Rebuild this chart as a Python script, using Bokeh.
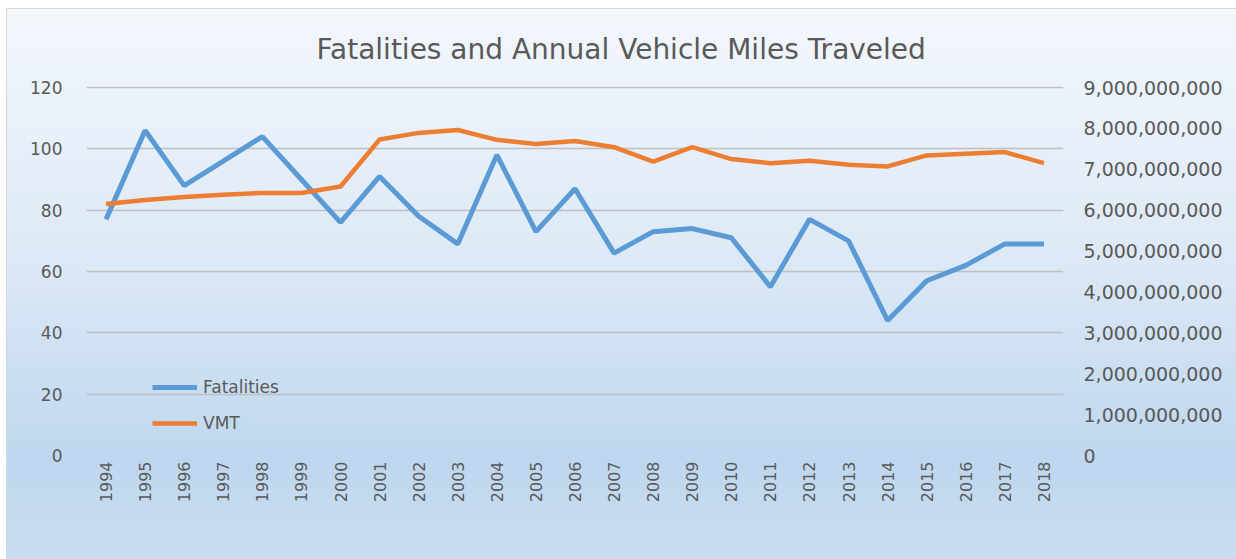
import math
from bokeh.plotting import figure
from bokeh.models import (Range1d, FactorRange, LinearAxis, FixedTicker,
                          NumeralTickFormatter, Legend, LegendItem, Title)
from bokeh.embed import file_html
from bokeh.resources import INLINE

years = [str(y) for y in range(1994, 2019)]
fatalities = [77, 106, 88, 96, 104, 90, 76, 91, 78, 69, 98, 73, 87, 66, 73,
              74, 71, 55, 77, 70, 44, 57, 62, 69, 69]
vmt = [6.15e9, 6.25e9, 6.32e9, 6.38e9, 6.42e9, 6.42e9, 6.58e9, 7.73e9, 7.89e9,
       7.96e9, 7.72e9, 7.62e9, 7.69e9, 7.54e9, 7.19e9, 7.54e9, 7.25e9, 7.15e9,
       7.21e9, 7.11e9, 7.07e9, 7.34e9, 7.38e9, 7.42e9, 7.15e9]
left_ticks = [0, 20, 40, 60, 80, 100, 120]
right_ticks = [0, 1e9, 2e9, 3e9, 4e9, 5e9, 6e9, 7e9, 8e9, 9e9]
title_text = "Fatalities and Annual Vehicle Miles Traveled"

FONT = "DejaVu Sans"
GRAY = "#595959"
TOP_PAD = 120.33 / 120.0

p = figure(width=1229, height=550, output_backend="svg", toolbar_location=None,
           x_range=FactorRange(factors=years, range_padding=0),
           y_range=Range1d(0, 120 * TOP_PAD),
           min_border_left=79, min_border_right=173, min_border_top=77,
           min_border_bottom=104)
p.extra_y_ranges = {"vmt": Range1d(0, 9e9 * TOP_PAD)}

p.border_fill_alpha = 0
p.background_fill_alpha = 0
p.outline_line_color = None
p.styles = {
    "margin": "9px 0px 0px 7px",
    "background": "linear-gradient(to bottom, #f3f7fc 0%, #dde9f6 45%, #bed7ee 82%, #c9ddf1 100%)",
    "outline": "1px solid #d6d6d6",
}

# title
p.title = Title(text=title_text, align="left", offset=230, standoff=42,
                text_font=FONT, text_font_size="28px", text_color=GRAY,
                text_font_style="normal")

# axes
p.yaxis.ticker = FixedTicker(ticks=left_ticks)
for ax in [p.yaxis[0], p.xaxis[0]]:
    ax.axis_line_color = None
    ax.major_tick_line_color = None
    ax.minor_tick_line_color = None
    ax.major_tick_out = 0
    ax.major_tick_in = 0
    ax.major_label_text_font = FONT
    ax.major_label_text_color = GRAY
p.yaxis.major_label_text_font_size = "17px"
p.yaxis.major_label_standoff = 24
p.xaxis.major_label_text_font_size = "16px"
p.xaxis.major_label_orientation = math.pi / 2
p.xaxis.major_label_standoff = 6

rax = LinearAxis(y_range_name="vmt", ticker=FixedTicker(ticks=right_ticks),
                 formatter=NumeralTickFormatter(format="0,0"))
rax.axis_line_color = None
rax.major_tick_line_color = None
rax.minor_tick_line_color = None
rax.major_tick_out = 0
rax.major_tick_in = 0
rax.major_label_text_font = FONT
rax.major_label_text_color = GRAY
rax.major_label_text_font_size = "19px"
rax.major_label_standoff = 20
p.add_layout(rax, "right")

p.xgrid.grid_line_color = None
p.ygrid.grid_line_color = "#bfbfbf"
p.ygrid.grid_line_width = 1.5

r1 = p.line(years, fatalities, line_color="#5b9bd5", line_width=5)
r2 = p.line(years, vmt, y_range_name="vmt", line_color="#ed7d31", line_width=4.5)

legend = Legend(items=[LegendItem(label="Fatalities", renderers=[r1]),
                       LegendItem(label="VMT", renderers=[r2])],
                location=(66, 22), orientation="vertical",
                glyph_width=45, glyph_height=20, spacing=16, padding=0,
                margin=0, label_standoff=6,
                border_line_color=None, background_fill_alpha=0,
                label_text_font=FONT, label_text_color=GRAY,
                label_text_font_size="17px")
p.add_layout(legend, "center")

open("out.html", "w").write(file_html(p, INLINE))
